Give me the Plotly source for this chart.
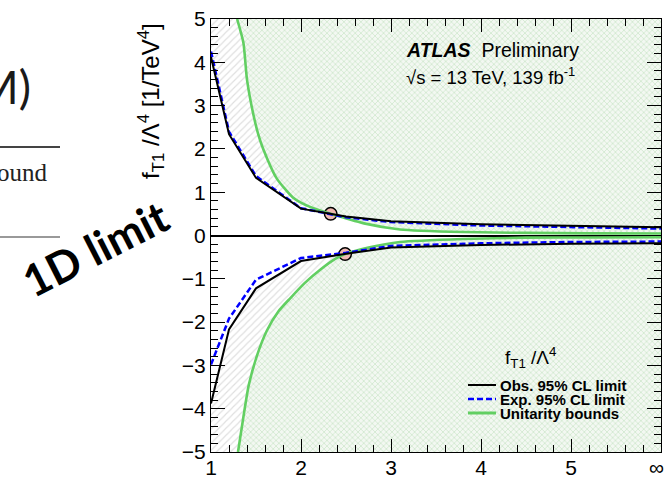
import plotly.graph_objects as go

# ---------------------------------------------------------------------------
# Data: 95% CL limits on f_T1/Lambda^4 [1/TeV^4] versus clipping energy (TeV).
# The last clipping point (6) stands for "no clipping" and is labelled as infinity.
# ---------------------------------------------------------------------------
clip_x = [1.0, 1.2, 1.5, 2.0, 2.5, 3.0, 4.0, 5.0, 6.0]
obs_upper = [4.12, 2.34, 1.33, 0.62, 0.44, 0.33, 0.26, 0.22, 0.19]
exp_upper = [4.25, 2.40, 1.37, 0.63, 0.42, 0.31, 0.23, 0.19, 0.16]
obs_lower = [-3.88, -2.17, -1.22, -0.59, -0.42, -0.28, -0.22, -0.19, -0.18]
exp_lower = [-2.98, -1.92, -1.02, -0.52, -0.40, -0.24, -0.18, -0.15, -0.14]

# Unitarity bounds
unit_x_up = [1.29, 1.36, 1.40, 1.47, 1.53, 1.58, 1.73, 1.91, 2.10, 2.33, 2.70, 3.10, 3.80, 4.50, 5.20, 6.00]
unit_up = [5.00, 4.45, 3.60, 2.80, 2.30, 2.00, 1.32, 0.88, 0.66, 0.50, 0.28, 0.14, 0.08, 0.06, 0.05, 0.045]
unit_x_lo = [1.30, 1.36, 1.42, 1.51, 1.62, 1.75, 1.88, 2.04, 2.22, 2.38, 2.49, 2.75, 3.10, 3.80, 4.50, 5.20, 6.00]
unit_lo = [-5.00, -4.19, -3.45, -2.78, -2.20, -1.75, -1.45, -1.10, -0.78, -0.54, -0.43, -0.28, -0.15, -0.08, -0.05, -0.045, -0.04]

# Crossing points of the observed limit with the unitarity bound
cross_x = [2.33, 2.49]
cross_y = [0.50, -0.43]

x_tickvals = [1, 2, 3, 4, 5, 6]
x_ticktext = ["1", "2", "3", "4", "5", ""]
inf_label = "\u221e"

XMIN, XMAX = 1.0, 6.0
YMIN, YMAX = -5.0, 5.0

W, H = 665, 479


def px(x):
    return x / W


def py(y):
    return 1 - y / H


BLACK = "#000000"
BLUE = "#0000ff"
GREEN = "#62cf62"
AXFONT = "Liberation Sans"

grey_hatch = dict(shape="/", size=5, solidity=0.22, fgcolor="#bdbdbd", bgcolor="#ffffff")
green_hatch = dict(shape="x", size=4, solidity=0.3, fgcolor="#9ccf98", bgcolor="#f3f8f2")

fig = go.Figure()

# Region excluded by the observed limit (grey hatch)
fig.add_trace(go.Scatter(
    x=clip_x + [XMAX, XMIN], y=obs_upper + [YMAX, YMAX],
    mode="lines", line=dict(width=0), fill="toself", fillpattern=grey_hatch,
    hoverinfo="skip", showlegend=False))
fig.add_trace(go.Scatter(
    x=clip_x + [XMAX, XMIN], y=obs_lower + [YMIN, YMIN],
    mode="lines", line=dict(width=0), fill="toself", fillpattern=grey_hatch,
    hoverinfo="skip", showlegend=False))

# Region beyond the unitarity bound (green hatch)
fig.add_trace(go.Scatter(
    x=unit_x_up + [XMAX, unit_x_up[0]], y=unit_up + [YMAX, YMAX],
    mode="lines", line=dict(width=0), fill="toself", fillpattern=green_hatch,
    hoverinfo="skip", showlegend=False))
fig.add_trace(go.Scatter(
    x=unit_x_lo + [XMAX, unit_x_lo[0]], y=unit_lo + [YMIN, YMIN],
    mode="lines", line=dict(width=0), fill="toself", fillpattern=green_hatch,
    hoverinfo="skip", showlegend=False))

# Crossing markers
fig.add_trace(go.Scatter(
    x=cross_x, y=cross_y, mode="markers",
    marker=dict(size=12.5, color="#f0b9b1", line=dict(color=BLACK, width=1.5)),
    showlegend=False, hoverinfo="skip"))

# Unitarity bound curves
for ux, uy in ((unit_x_up, unit_up), (unit_x_lo, unit_lo)):
    fig.add_trace(go.Scatter(
        x=ux, y=uy, mode="lines", line=dict(color=GREEN, width=2.6, shape="spline", smoothing=0.6),
        showlegend=False, hoverinfo="skip"))

# Expected limits
for ey in (exp_upper, exp_lower):
    fig.add_trace(go.Scatter(
        x=clip_x, y=ey, mode="lines", line=dict(color=BLUE, width=2.5, dash="6px,3px"),
        showlegend=False, hoverinfo="skip"))

# Observed limits
for oy in (obs_upper, obs_lower):
    fig.add_trace(go.Scatter(
        x=clip_x, y=oy, mode="lines", line=dict(color=BLACK, width=2),
        showlegend=False, hoverinfo="skip"))

axis_common = dict(
    showline=True, linecolor=BLACK, linewidth=1, mirror="ticks",
    ticks="inside", tickcolor=BLACK, tickwidth=1,
    showgrid=False, automargin=False,
    tickfont=dict(family=AXFONT, size=21, color=BLACK),
)

fig.update_xaxes(
    **axis_common,
    range=[XMIN, XMAX], domain=[px(211), px(661)],
    tickvals=x_tickvals, ticktext=x_ticktext, ticklen=13,
    ticklabelstandoff=-3,
    zeroline=False,
    minor=dict(dtick=0.2, tick0=1, ticks="inside", ticklen=7, tickcolor=BLACK, showgrid=False),
)
fig.update_yaxes(
    **axis_common,
    range=[YMIN, YMAX], domain=[py(452), py(19)],
    dtick=1, tick0=0, ticklen=14,
    zeroline=True, zerolinecolor=BLACK, zerolinewidth=2,
    minor=dict(dtick=0.2, tick0=0, ticks="inside", ticklen=7, tickcolor=BLACK, showgrid=False),
)

annotations = [
    # infinity label at the no-clipping end of the x axis
    dict(x=px(656), y=py(467), text=inf_label, font=dict(family=AXFONT, size=21, color=BLACK)),
    # y-axis title
    dict(x=px(151), y=py(101), text="f<sub>T1</sub> /\u039b<sup>4</sup> [1/TeV<sup>4</sup>]",
         textangle=-90, font=dict(family=AXFONT, size=24, color=BLACK)),
    # experiment labels
    dict(x=px(404), y=py(50), xanchor="left", text="<b><i>ATLAS</i></b>\u00a0 Preliminary",
         font=dict(family=AXFONT, size=19.5, color=BLACK)),
    dict(x=px(404), y=py(76), xanchor="left", text="\u221as = 13 TeV, 139 fb<sup>-1</sup>",
         font=dict(family=AXFONT, size=18.5, color=BLACK)),
    # legend
    dict(x=px(530), y=py(357), text="f<sub>T1</sub> /\u039b<sup>4</sup>",
         font=dict(family=AXFONT, size=19, color=BLACK)),
    dict(x=px(498), y=py(385), xanchor="left", text="<b>Obs. 95% CL limit</b>",
         font=dict(family=AXFONT, size=15, color=BLACK)),
    dict(x=px(498), y=py(399), xanchor="left", text="<b>Exp. 95% CL limit</b>",
         font=dict(family=AXFONT, size=15, color=BLACK)),
    dict(x=px(498), y=py(413), xanchor="left", text="<b>Unitarity bounds</b>",
         font=dict(family=AXFONT, size=15, color=BLACK)),
    # surrounding slide text
    dict(x=px(33), y=py(86), xanchor="right", text="M)",
         font=dict(family="Lato", size=46, color="#1a1a1a")),
    dict(x=px(-5), y=py(172), xanchor="left", text="ound",
         font=dict(family="Liberation Serif", size=25, color="#222222")),
    dict(x=px(95), y=py(248), text="<b>1D limit</b>", textangle=-27,
         font=dict(family="Lato", size=44, color=BLACK)),
]
for a in annotations:
    a.setdefault("xref", "paper")
    a.setdefault("yref", "paper")
    a.setdefault("showarrow", False)
    a.setdefault("xanchor", "center")
    a.setdefault("yanchor", "middle")

shapes = [
    dict(type="line", xref="paper", yref="paper", x0=px(468), x1=px(496), y0=py(385), y1=py(385),
         line=dict(color=BLACK, width=2)),
    dict(type="line", xref="paper", yref="paper", x0=px(468), x1=px(496), y0=py(399), y1=py(399),
         line=dict(color=BLUE, width=2.5, dash="6px,3px")),
    dict(type="line", xref="paper", yref="paper", x0=px(468), x1=px(496), y0=py(413), y1=py(413),
         line=dict(color=GREEN, width=3)),
    dict(type="line", xref="paper", yref="paper", x0=0, x1=px(60), y0=py(147), y1=py(147),
         line=dict(color="#444444", width=2)),
    dict(type="line", xref="paper", yref="paper", x0=0, x1=px(60), y0=py(237), y1=py(237),
         line=dict(color="#777777", width=1.5)),
]

fig.update_layout(
    width=W, height=H,
    margin=dict(l=0, r=0, t=0, b=0, autoexpand=False),
    paper_bgcolor="white", plot_bgcolor="white",
    showlegend=False,
    annotations=annotations,
    shapes=shapes,
)

fig.write_html("out.html")
